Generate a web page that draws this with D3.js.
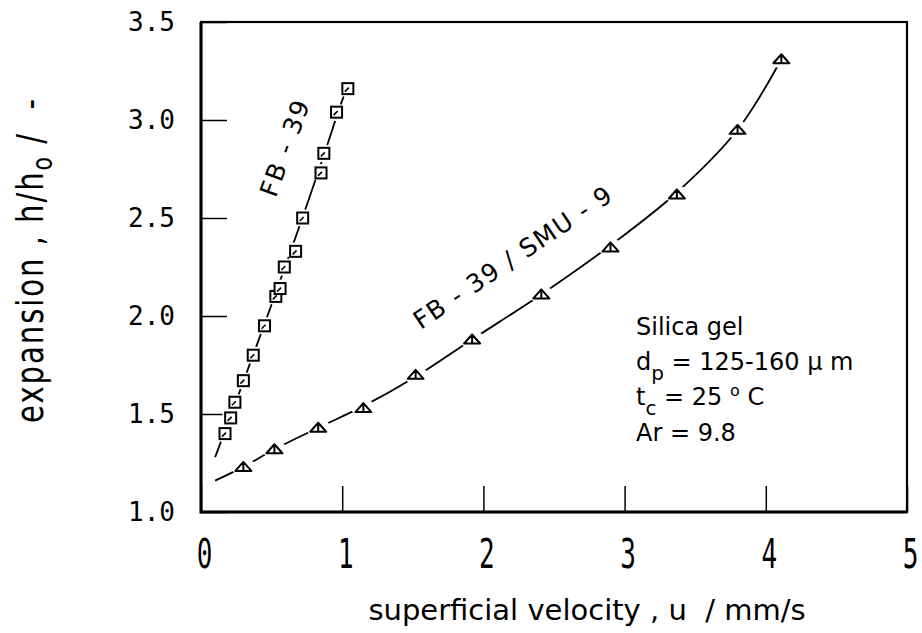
<!DOCTYPE html>
<html>
<head>
<meta charset="utf-8">
<script src="https://d3js.org/d3.v7.min.js"></script>
<style>
    body { margin: 0; background: #fff; }
    text { font-family: "DejaVu Sans", sans-serif; fill: #000; white-space: pre; }
    .tick text { font-family: "DejaVu Sans Mono", monospace; font-size: 26px; }
</style>
</head>
<body>
<svg id="chart" width="922" height="633"></svg>
<script>
    // axis ticks
    var xTicks = [0, 1, 2, 3, 4, 5];
    var yTicks = [1.0, 1.5, 2.0, 2.5, 3.0, 3.5];

    // FB - 39 (squares)
    var fbU = [0.17, 0.21, 0.24, 0.30, 0.37, 0.45, 0.53, 0.56, 0.59, 0.67, 0.72, 0.85, 0.87, 0.96, 1.04];
    var fbH = [1.40, 1.48, 1.56, 1.67, 1.80, 1.95, 2.10, 2.14, 2.25, 2.33, 2.50, 2.73, 2.83, 3.04, 3.16];
    // drawn curve through FB - 39
    var fbFitU = [0.10, 0.20, 0.30, 0.45, 0.60, 0.72, 0.87, 1.00, 1.04];
    var fbFitH = [1.28, 1.47, 1.665, 1.96, 2.26, 2.505, 2.82, 3.10, 3.17];

    // FB - 39 / SMU - 9 (triangles)
    var smuU = [0.30, 0.52, 0.83, 1.15, 1.52, 1.92, 2.41, 2.90, 3.37, 3.80, 4.11];
    var smuH = [1.23, 1.32, 1.43, 1.53, 1.70, 1.88, 2.11, 2.35, 2.62, 2.95, 3.31];
    // drawn curve through FB - 39 / SMU - 9
    var smuFitU = [0.10, 0.30, 0.52, 0.83, 1.15, 1.52, 1.92, 2.41, 2.90, 3.37, 3.80, 4.11];
    var smuFitH = [1.16, 1.23, 1.32, 1.43, 1.54, 1.69, 1.88, 2.11, 2.36, 2.63, 2.95, 3.31];

    var svg = d3.select("#chart");
    var padL = 201, padR = 907, padT = 22, padB = 512;

    var xs = d3.scaleLinear().domain([0, 5]).range([padL, padR]);
    var ys = d3.scaleLinear().domain([1, 3.5]).range([padB, padT]);

    // x axis, ticks pointing in
    var gx = svg.append("g")
        .attr("transform", "translate(0," + padB + ")")
        .call(d3.axisBottom(xs).tickValues(xTicks).tickSize(-26).tickFormat(d3.format("d")));
    gx.select(".domain").remove();
    gx.selectAll(".tick line").attr("stroke", "#000").attr("stroke-width", 1.5);
    gx.selectAll(".tick text")
        .attr("y", null).attr("dy", null)
        .attr("transform", "translate(3,56) scale(1,1.6)");

    // y axis
    var gy = svg.append("g")
        .attr("transform", "translate(" + padL + ",0)")
        .call(d3.axisLeft(ys).tickValues(yTicks).tickSize(-26).tickPadding(26).tickFormat(d3.format(".1f")));
    gy.select(".domain").remove();
    gy.selectAll(".tick line").attr("stroke", "#000").attr("stroke-width", 1.5);

    // frame (left and bottom drawn heavier)
    svg.append("rect")
        .attr("x", padL).attr("y", padT)
        .attr("width", padR - padL).attr("height", padB - padT)
        .attr("fill", "none").attr("stroke", "#000").attr("stroke-width", 2.2);
    svg.append("path")
        .attr("d", "M" + padL + "," + padT + "V" + padB + "H" + padR)
        .attr("fill", "none").attr("stroke", "#000").attr("stroke-width", 3);

    // curves
    var line = d3.line()
        .x(function (d) { return xs(d[0]); })
        .y(function (d) { return ys(d[1]); })
        .curve(d3.curveCatmullRom.alpha(0.5));

    svg.append("path")
        .attr("d", line(d3.zip(fbFitU, fbFitH)))
        .attr("fill", "none").attr("stroke", "#000").attr("stroke-width", 1.8);
    svg.append("path")
        .attr("d", line(d3.zip(smuFitU, smuFitH)))
        .attr("fill", "none").attr("stroke", "#000").attr("stroke-width", 1.8);

    // gaps in the line round the markers
    svg.append("g").selectAll("circle")
        .data(d3.zip(fbU, fbH)).enter().append("circle")
        .attr("cx", function (d) { return xs(d[0]); })
        .attr("cy", function (d) { return ys(d[1]); })
        .attr("r", 9).attr("fill", "#fff");
    svg.append("g").selectAll("ellipse")
        .data(d3.zip(smuU, smuH)).enter().append("ellipse")
        .attr("cx", function (d) { return xs(d[0]); })
        .attr("cy", function (d) { return ys(d[1]); })
        .attr("rx", 12).attr("ry", 9).attr("fill", "#fff");

    // square markers
    var sq = svg.append("g").selectAll("g")
        .data(d3.zip(fbU, fbH)).enter().append("g")
        .attr("transform", function (d) { return "translate(" + xs(d[0]) + "," + ys(d[1]) + ")"; });
    sq.append("rect")
        .attr("x", -5.5).attr("y", -5.5).attr("width", 11).attr("height", 11)
        .attr("fill", "#fff").attr("stroke", "#000").attr("stroke-width", 2);
    sq.append("line")
        .attr("x1", 1).attr("y1", -1).attr("x2", -3).attr("y2", 3)
        .attr("stroke", "#000").attr("stroke-width", 1.6);

    // triangle markers
    svg.append("g").selectAll("path")
        .data(d3.zip(smuU, smuH)).enter().append("path")
        .attr("transform", function (d) { return "translate(" + xs(d[0]) + "," + ys(d[1]) + ")"; })
        .attr("d", "M-8,4L8,4L0,-5ZM0,-5L0,4")
        .attr("fill", "#fff").attr("stroke", "#000").attr("stroke-width", 2)
        .attr("stroke-linejoin", "round");

    // curve labels
    svg.append("text")
        .attr("transform", "translate(" + xs(0.595) + "," + ys(2.86) + ") rotate(-70)")
        .attr("text-anchor", "middle").attr("dy", "0.35em")
        .style("font-size", "25px").style("letter-spacing", "2px")
        .text("FB - 39");
    svg.append("text")
        .attr("transform", "translate(" + xs(2.21) + "," + ys(2.30) + ") rotate(-34)")
        .attr("text-anchor", "middle").attr("dy", "0.35em")
        .style("font-size", "25px").style("letter-spacing", "1.5px")
        .text("FB - 39 / SMU - 9");

    // legend block
    var lg = svg.append("text").style("font-size", "24px");
    lg.append("tspan").attr("x", 636).attr("y", 335).text("Silica gel");
    lg.append("tspan").attr("x", 636).attr("y", 370).text("d");
    lg.append("tspan").attr("dy", 10).style("font-size", "20px").text("p");
    lg.append("tspan").attr("dy", -10).text(" = 125-160 \u03bc m");
    lg.append("tspan").attr("x", 636).attr("y", 405).text("t");
    lg.append("tspan").attr("dy", 10).style("font-size", "20px").text("c");
    lg.append("tspan").attr("dy", -10).text(" = 25 ");
    lg.append("tspan").attr("dy", -9).style("font-size", "16px").text("o");
    lg.append("tspan").attr("dy", 9).text(" C");
    lg.append("tspan").attr("x", 636).attr("y", 441).text("Ar = 9.8");

    // axis titles
    svg.append("text")
        .attr("x", 587).attr("y", 620)
        .attr("text-anchor", "middle")
        .style("font-size", "29px")
        .text("superficial velocity , u  / mm/s");

    var yt = svg.append("text")
        .attr("transform", "translate(43,260) rotate(-90) scale(1,1.3)")
        .attr("text-anchor", "middle")
        .style("font-size", "29px")
        .style("letter-spacing", "2px");
    yt.append("tspan").text("expansion , h/h");
    yt.append("tspan").attr("dy", 7).style("font-size", "22px").text("o");
    yt.append("tspan").attr("dy", -7).text(" /  -");
</script>
</body>
</html>
